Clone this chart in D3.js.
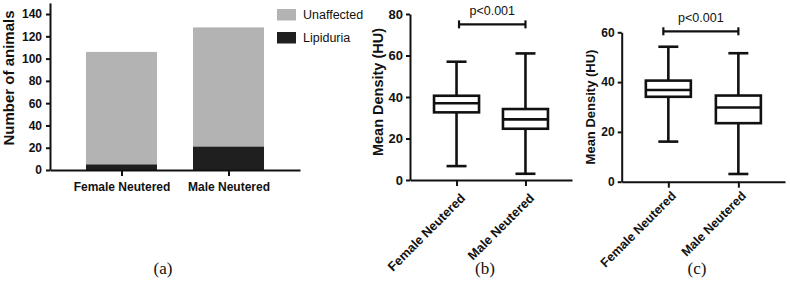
<!DOCTYPE html>
<html>
<head>
<meta charset="utf-8">
<script src="https://cdn.jsdelivr.net/npm/d3@7"></script>
<style>
  body { margin: 0; background: #fff; }
  svg { display: block; }
  text { font-family: "Liberation Sans", Arial, sans-serif; fill: #111; }
</style>
</head>
<body>
<div id="chart"></div>
<script>
// data
var groups = ["Female Neutered", "Male Neutered"];

// (a) stacked counts
var lipiduria = [5, 21];
var unaffected = [101, 107];
var countTicks = [0, 20, 40, 60, 80, 100, 120, 140];

// (b) box stats
var bMin = [6.7, 3];
var bQ1 = [32.6, 24.7];
var bMed = [37, 29.2];
var bQ3 = [40.6, 34.2];
var bMax = [57, 61];
var bTicks = [0, 20, 40, 60, 80];

// (c) box stats
var cMin = [16.1, 3.1];
var cQ1 = [34.1, 23.5];
var cMed = [36.8, 29.8];
var cQ3 = [40.6, 34.6];
var cMax = [54.2, 51.6];
var cTicks = [0, 20, 40, 60];

var pText = "p<0.001";

var svg = d3.select("#chart").append("svg")
  .attr("width", 790)
  .attr("height", 287);

var ink = "#111";

function styleAxis(g, fs) {
  g.selectAll("path.domain").attr("stroke", ink).attr("stroke-width", 2);
  g.selectAll(".tick line").attr("stroke", ink).attr("stroke-width", 2);
  g.selectAll(".tick text")
    .attr("font-size", fs)
    .attr("font-weight", "bold")
    .attr("fill", ink)
    .style("font-family", "'Liberation Sans', Arial, sans-serif");
}

// ---------- panel (a) ----------
var xa = d3.scalePoint().domain(groups).range([50, 300]).padding(0.668);
var ya = d3.scaleLinear().domain([0, 150]).range([170, 2.9]);
var barW = 71;

var ga = svg.append("g");

ga.selectAll("rect.unaff")
  .data(groups)
  .enter().append("rect")
    .attr("x", function(d) { return xa(d) - barW / 2 })
    .attr("width", barW)
    .attr("y", function(d, i) { return ya(lipiduria[i] + unaffected[i]) })
    .attr("height", function(d, i) { return ya(lipiduria[i]) - ya(lipiduria[i] + unaffected[i]) })
    .attr("fill", "#b3b3b3");

ga.selectAll("rect.lip")
  .data(groups)
  .enter().append("rect")
    .attr("x", function(d) { return xa(d) - barW / 2 })
    .attr("width", barW)
    .attr("y", function(d, i) { return ya(lipiduria[i]) })
    .attr("height", function(d, i) { return ya(0) - ya(lipiduria[i]) })
    .attr("fill", "#1f1f1f");

var axA = ga.append("g")
  .attr("transform", "translate(50,0)")
  .call(d3.axisLeft(ya).tickValues(countTicks).tickSize(4).tickPadding(4).tickSizeOuter(0));
styleAxis(axA, 12);

var axAx = ga.append("g")
  .attr("transform", "translate(0,170)")
  .call(d3.axisBottom(xa).tickSize(6).tickPadding(4).tickSizeOuter(0));
styleAxis(axAx, 12);
axAx.selectAll(".tick text").attr("dy", "0.9em");

ga.append("text")
  .attr("transform", "translate(14,78) rotate(-90)")
  .attr("text-anchor", "middle")
  .attr("font-size", 15)
  .attr("font-weight", "bold")
  .text("Number of animals");

// legend
var legendItems = [["Unaffected", "#b3b3b3"], ["Lipiduria", "#1f1f1f"]];
var lg = ga.selectAll("g.leg")
  .data(legendItems)
  .enter().append("g")
    .attr("transform", function(d, i) { return "translate(277," + (9 + i * 23) + ")" });
lg.append("rect").attr("width", 19).attr("height", 11.5).attr("fill", function(d) { return d[1] });
lg.append("text")
  .attr("x", 26).attr("y", 6).attr("dy", "0.35em")
  .attr("font-size", 12.5)
  .text(function(d) { return d[0] });

// ---------- box plot helper ----------
function boxPanel(cfg) {
  var g = svg.append("g");
  var x = d3.scalePoint().domain(groups).range(cfg.xRange).padding(cfg.pad);
  var y = d3.scaleLinear().domain(cfg.yDomain).range(cfg.yRange);

  var ay = g.append("g")
    .attr("transform", "translate(" + cfg.xRange[0] + ",0)")
    .call(d3.axisLeft(y).tickValues(cfg.ticks).tickSize(4).tickPadding(3).tickSizeOuter(0));
  styleAxis(ay, cfg.tickFs);

  var ax = g.append("g")
    .attr("transform", "translate(0," + cfg.yRange[0] + ")")
    .call(d3.axisBottom(x).tickSize(6).tickSizeOuter(0));
  styleAxis(ax, cfg.labelFs);
  ax.selectAll(".tick text")
    .attr("text-anchor", "end")
    .attr("dy", 0)
    .attr("y", 0)
    .attr("transform", "translate(" + cfg.labelShift[0] + "," + cfg.labelShift[1] + ") rotate(-45)");

  var bw = cfg.boxW, cw = 20;
  var box = g.selectAll("g.box")
    .data(groups)
    .enter().append("g")
      .attr("fill", "none")
      .attr("stroke", ink)
      .attr("stroke-width", 2.6);

  // whiskers
  box.append("line")
    .attr("x1", function(d) { return x(d) }).attr("x2", function(d) { return x(d) })
    .attr("y1", function(d, i) { return y(cfg.max[i]) }).attr("y2", function(d, i) { return y(cfg.q3[i]) });
  box.append("line")
    .attr("x1", function(d) { return x(d) }).attr("x2", function(d) { return x(d) })
    .attr("y1", function(d, i) { return y(cfg.q1[i]) }).attr("y2", function(d, i) { return y(cfg.min[i]) });
  box.append("line")
    .attr("x1", function(d) { return x(d) - cw / 2 }).attr("x2", function(d) { return x(d) + cw / 2 })
    .attr("y1", function(d, i) { return y(cfg.max[i]) }).attr("y2", function(d, i) { return y(cfg.max[i]) });
  box.append("line")
    .attr("x1", function(d) { return x(d) - cw / 2 }).attr("x2", function(d) { return x(d) + cw / 2 })
    .attr("y1", function(d, i) { return y(cfg.min[i]) }).attr("y2", function(d, i) { return y(cfg.min[i]) });
  // box
  box.append("rect")
    .attr("x", function(d) { return x(d) - bw / 2 })
    .attr("width", bw)
    .attr("y", function(d, i) { return y(cfg.q3[i]) })
    .attr("height", function(d, i) { return y(cfg.q1[i]) - y(cfg.q3[i]) })
    .attr("fill", "#fff");
  box.append("line")
    .attr("x1", function(d) { return x(d) - bw / 2 }).attr("x2", function(d) { return x(d) + bw / 2 })
    .attr("y1", function(d, i) { return y(cfg.med[i]) }).attr("y2", function(d, i) { return y(cfg.med[i]) });

  // significance bracket
  var by = y(cfg.sig);
  var x0 = x(groups[0]) + cfg.brShift, x1 = x(groups[1]);
  var br = g.append("g").attr("stroke", ink).attr("stroke-width", 2.2);
  br.append("line").attr("x1", x0).attr("x2", x1).attr("y1", by).attr("y2", by);
  br.append("line").attr("x1", x0).attr("x2", x0).attr("y1", by - 4).attr("y2", by + 4);
  br.append("line").attr("x1", x1).attr("x2", x1).attr("y1", by - 4).attr("y2", by + 4);
  g.append("text")
    .attr("x", (x0 + x1) / 2)
    .attr("y", by - 9)
    .attr("text-anchor", "middle")
    .attr("font-size", 12.5)
    .text(pText);

  g.append("text")
    .attr("transform", "translate(" + cfg.labelX + "," + cfg.labelY + ") rotate(-90)")
    .attr("text-anchor", "middle")
    .attr("font-size", cfg.titleFs)
    .attr("font-weight", "bold")
    .text("Mean Density (HU)");
}

boxPanel({
  xRange: [410, 572], pad: 0.675,
  yDomain: [0, 80], yRange: [180, 14], ticks: bTicks,
  min: bMin, q1: bQ1, med: bMed, q3: bQ3, max: bMax,
  boxW: 45, sig: 75, brShift: 2.5, tickFs: 13, labelFs: 12.8, titleFs: 14.5,
  labelX: 383, labelY: 92, labelShift: [9, 19]
});

boxPanel({
  xRange: [621.7, 785], pad: 0.666,
  yDomain: [0, 60], yRange: [181.7, 32.3], ticks: cTicks,
  min: cMin, q1: cQ1, med: cMed, q3: cQ3, max: cMax,
  boxW: 45, sig: 60.4, brShift: -5, tickFs: 12, labelFs: 12.5, titleFs: 13,
  labelX: 595, labelY: 107, labelShift: [8, 15]
});

// panel captions
var caps = [["(a)", 163], ["(b)", 485], ["(c)", 697]];
svg.selectAll("text.cap")
  .data(caps)
  .enter().append("text")
    .attr("x", function(d) { return d[1] })
    .attr("y", 274)
    .attr("text-anchor", "middle")
    .attr("font-size", 17)
    .style("font-family", "'Liberation Serif', 'Times New Roman', serif")
    .text(function(d) { return d[0] });
</script>
</body>
</html>
